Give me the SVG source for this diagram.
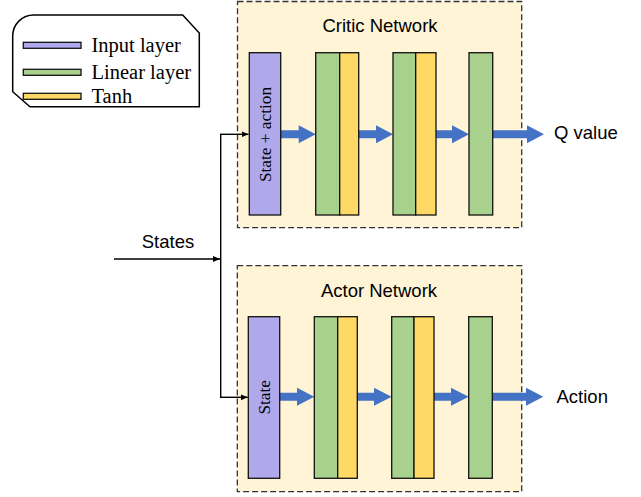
<svg xmlns="http://www.w3.org/2000/svg" width="641" height="497" viewBox="0 0 641 497">
<style>
.box{fill:#FFF4D6;stroke:#333;stroke-width:1.3;stroke-dasharray:6,3}
.inp{fill:#AFA9EC;stroke:#111;stroke-width:1.3}
.lin{fill:#A9D18E;stroke:#111;stroke-width:1.3}
.tanh{fill:#FFD966;stroke:#111;stroke-width:1.3}
.blue{fill:#4472C4}
.thin{fill:none;stroke:#000;stroke-width:1.4}
.sans{font-family:"Liberation Sans",Arial,sans-serif;font-size:18.5px;fill:#000}
.serif{font-family:"Liberation Serif","Times New Roman",serif;fill:#000}
</style>
<defs>
<marker id="ah" markerWidth="8" markerHeight="8" refX="7" refY="4" orient="auto" markerUnits="userSpaceOnUse">
<path d="M0,1 L7,4 L0,7 Z" fill="#000"/>
</marker>
</defs>

<g id="legend">
<path d="M12.7 36 A21 21 0 0 1 33.7 15 L182.7 15 L199.3 33 L199.3 106.7 L30 106.7 L12.7 91.7 Z" fill="#fff" stroke="#000" stroke-width="1.5"/>
<rect x="23.3" y="42.3" width="57.7" height="6" class="inp"/>
<rect x="23.3" y="69.3" width="57.7" height="6" class="lin"/>
<rect x="23.3" y="93.3" width="57.7" height="6" class="tanh"/>
<text x="91.5" y="52" class="serif" font-size="20.5">Input layer</text>
<text x="91.5" y="78.5" class="serif" font-size="20.5">Linear layer</text>
<text x="91.5" y="103" class="serif" font-size="20.5">Tanh</text>
</g>

<g id="critic">
<rect x="237.5" y="1.5" width="284.2" height="226.2" class="box"/>
<text x="380" y="32" text-anchor="middle" class="sans">Critic Network</text>
</g>

<g id="actor">
<rect x="237.3" y="265.7" width="284.4" height="226" class="box"/>
<text x="379" y="296.7" text-anchor="middle" class="sans">Actor Network</text>
</g>

<g id="connectors">
<polygon class="blue" points="281,130.3 298.7,130.3 298.7,125.3 315.7,134.3 298.7,143.3 298.7,138.3 281,138.3"/>
<polygon class="blue" points="358.7,130.3 376,130.3 376,125.3 393,134.3 376,143.3 376,138.3 358.7,138.3"/>
<polygon class="blue" points="436,130.3 452,130.3 452,125.3 469,134.3 452,143.3 452,138.3 436,138.3"/>
<polygon class="blue" points="492.7,130.3 527,130.3 527,125.3 544,134.3 527,143.3 527,138.3 492.7,138.3"/>
<polygon class="blue" points="279.7,392.7 297,392.7 297,387.7 314.3,396.7 297,405.7 297,400.7 279.7,400.7"/>
<polygon class="blue" points="357.3,392.7 374,392.7 374,387.7 391.7,396.7 374,405.7 374,400.7 357.3,400.7"/>
<polygon class="blue" points="434,392.7 451,392.7 451,387.7 468.7,396.7 451,405.7 451,400.7 434,400.7"/>
<polygon class="blue" points="492.3,392.7 526,392.7 526,387.7 543.3,396.7 526,405.7 526,400.7 492.3,400.7"/>
<line x1="114" y1="259" x2="220" y2="259" class="thin" marker-end="url(#ah)"/>
<polyline points="220.7,134.3 220.7,397.3" class="thin"/>
<polyline points="220,134.3 248.5,134.3" class="thin" marker-end="url(#ah)"/>
<polyline points="220,397.3 247.8,397.3" class="thin" marker-end="url(#ah)"/>
</g>

<g id="critic-input">
<rect x="249.3" y="52.7" width="31.4" height="162.3" class="inp"/>
<text transform="translate(271,134.5) rotate(-90)" text-anchor="middle" class="serif" font-size="17.3">State + action</text>
</g>
<g id="critic-layer1">
<rect x="315.7" y="52.7" width="24" height="162.3" class="lin"/>
<rect x="339.7" y="52.7" width="19" height="162.3" class="tanh"/>
</g>
<g id="critic-layer2">
<rect x="393" y="52.7" width="22.7" height="162.3" class="lin"/>
<rect x="415.7" y="52.7" width="20.3" height="162.3" class="tanh"/>
</g>
<g id="critic-layer3">
<rect x="469" y="52.7" width="23.7" height="162.3" class="lin"/>
</g>

<g id="actor-input">
<rect x="248.3" y="316.7" width="31.4" height="161.6" class="inp"/>
<text transform="translate(270,397.3) rotate(-90)" text-anchor="middle" class="serif" font-size="17.3">State</text>
</g>
<g id="actor-layer1">
<rect x="314.3" y="316.7" width="23.4" height="161.6" class="lin"/>
<rect x="337.7" y="316.7" width="19.6" height="161.6" class="tanh"/>
</g>
<g id="actor-layer2">
<rect x="391.7" y="316.7" width="22.3" height="161.6" class="lin"/>
<rect x="414" y="316.7" width="20" height="161.6" class="tanh"/>
</g>
<g id="actor-layer3">
<rect x="468.7" y="316.7" width="23.6" height="161.6" class="lin"/>
</g>

<g id="labels">
<text x="168" y="247.7" text-anchor="middle" class="sans">States</text>
<text x="554" y="139.3" class="sans">Q value</text>
<text x="556.5" y="403.3" class="sans">Action</text>
</g>
</svg>
